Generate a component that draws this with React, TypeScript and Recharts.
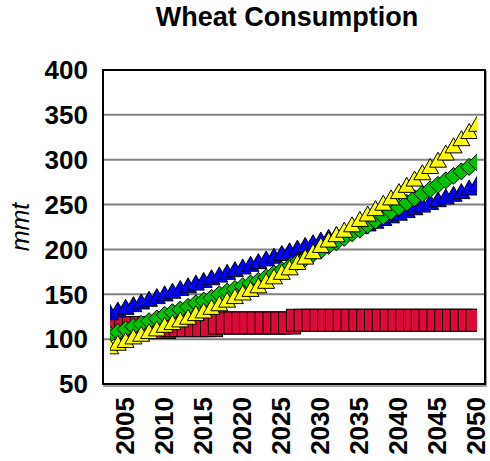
import React from 'react';
import { LineChart, Line, XAxis, YAxis, CartesianGrid } from 'recharts';

const years = [
  2003, 2004, 2005, 2006, 2007, 2008, 2009, 2010, 2011, 2012, 2013, 2014, 2015, 2016, 2017, 2018,
  2019, 2020, 2021, 2022, 2023, 2024, 2025, 2026, 2027, 2028, 2029, 2030, 2031, 2032, 2033, 2034,
  2035, 2036, 2037, 2038, 2039, 2040, 2041, 2042, 2043, 2044, 2045, 2046, 2047, 2048, 2049, 2050,
];

const redSeries = [
  112, 112, 113, 113, 113, 113, 113, 113, 115, 115, 115, 115, 115, 115, 118, 118,
  118, 118, 118, 118, 118, 118, 118, 118, 121, 121, 121, 121, 121, 121, 121, 121,
  121, 121, 121, 121, 121, 121, 121, 121, 121, 121, 121, 121, 121, 121, 121, 121,
];

const blueSeries = [
  130, 133, 136, 139, 142, 145, 148, 151, 154, 157, 160, 163, 166, 169, 172, 175,
  178, 181, 184, 187, 190, 193, 196, 199, 202, 205, 208, 211, 214, 217, 220, 223,
  226, 229, 232, 235, 238, 241, 244, 247, 250, 253, 256, 259, 262, 265, 269, 273,
];

const greenSeries = [
  105, 108, 111, 114, 117, 120, 123, 127, 130, 133, 136, 140, 143, 146, 150, 153,
  156, 159, 162, 165, 169, 173, 177, 181, 186, 190, 195, 199, 204, 208, 213, 218,
  222, 227, 232, 237, 242, 247, 252, 257, 262, 267, 272, 277, 282, 287, 292, 297,
];

const yellowSeries = [
  92, 96, 99, 103, 106, 109, 112, 116, 119, 122, 125, 129, 132, 136, 140, 144,
  148, 152, 156, 160, 165, 170, 175, 180, 186, 192, 198, 205, 211, 217, 222, 228,
  234, 240, 246, 252, 258, 265, 272, 279, 286, 293, 300, 308, 316, 324, 332, 340,
];

const yTicks = [50, 100, 150, 200, 250, 300, 350, 400];
const xTicks = [2005, 2010, 2015, 2020, 2025, 2030, 2035, 2040, 2045, 2050];

const data = years.map((year, i) => ({
  year,
  red: redSeries[i],
  blue: blueSeries[i],
  green: greenSeries[i],
  yellow: yellowSeries[i],
}));

const FONT = '"Liberation Sans", Arial, sans-serif';

const triangle = (fill: string) => (props: any) => {
  const { cx, cy, index } = props;
  if (cx == null || cy == null) return <g key={index} />;
  return (
    <polygon
      key={index}
      points={`${cx},${cy - 7.5} ${cx + 8.5},${cy + 7.5} ${cx - 8.5},${cy + 7.5}`}
      fill={fill}
      stroke="#000"
      strokeWidth={1}
    />
  );
};

const diamond = (fill: string) => (props: any) => {
  const { cx, cy, index } = props;
  if (cx == null || cy == null) return <g key={index} />;
  return (
    <polygon
      key={index}
      points={`${cx},${cy - 8.5} ${cx + 8.5},${cy} ${cx},${cy + 8.5} ${cx - 8.5},${cy}`}
      fill={fill}
      stroke="#000"
      strokeWidth={1}
    />
  );
};

const square = (fill: string) => (props: any) => {
  const { cx, cy, index } = props;
  if (cx == null || cy == null) return <g key={index} />;
  return <rect key={index} x={cx - 11} y={cy - 11} width={22} height={22} fill={fill} stroke="#000" strokeWidth={1} />;
};

const XTick = (props: any) => {
  const { x, y, payload } = props;
  return (
    <text
      x={x - 1}
      y={y}
      transform={`rotate(-90 ${x - 1} ${y})`}
      textAnchor="end"
      dominantBaseline="central"
      fontFamily={FONT}
      fontWeight="bold"
      fontSize={26}
      fill="#000"
    >
      {payload.value}
    </text>
  );
};

export default function App() {
  return (
    <div style={{ position: 'absolute', left: 0, top: 0, width: 490, height: 461, background: '#fff' }}>
      <div
        style={{
          position: 'absolute',
          left: 0,
          width: 574,
          top: 1,
          textAlign: 'center',
          fontFamily: FONT,
          fontWeight: 'bold',
          fontSize: 27,
          lineHeight: '32px',
          color: '#000',
        }}
      >
        Wheat Consumption
      </div>
      <div
        style={{
          position: 'absolute',
          left: 20,
          top: 227,
          transform: 'translate(-50%, -50%) rotate(-90deg)',
          fontFamily: FONT,
          fontStyle: 'italic',
          fontSize: 25,
          color: '#000',
          whiteSpace: 'nowrap',
        }}
      >
        mmt
      </div>
      <LineChart width={490} height={461} data={data} margin={{ top: 70, right: 5, bottom: 0, left: 0 }}>
        <CartesianGrid vertical={false} stroke="#808080" strokeWidth={2} />
        <XAxis
          dataKey="year"
          type="number"
          domain={[2003, 2050]}
          allowDataOverflow
          ticks={xTicks}
          interval={0}
          padding={{ left: 7, right: 8 }}
          height={77}
          tickLine={false}
          tickSize={0}
          tickMargin={13}
          axisLine={false}
          tick={<XTick />}
        />
        <YAxis
          domain={[50, 400]}
          allowDataOverflow
          ticks={yTicks}
          interval={0}
          width={103}
          tickLine={false}
          tickSize={0}
          tickMargin={15}
          axisLine={false}
          tick={{ fontFamily: FONT, fontWeight: 'bold', fontSize: 26, fill: '#000' }}
        />
        <Line dataKey="red" stroke="none" dot={square('#DC0A37')} activeDot={false} isAnimationActive={false} />
        <Line dataKey="blue" stroke="none" dot={triangle('#0000FF')} activeDot={false} isAnimationActive={false} />
        <Line dataKey="green" stroke="none" dot={diamond('#00C000')} activeDot={false} isAnimationActive={false} />
        <Line dataKey="yellow" stroke="none" dot={triangle('#FFFF00')} activeDot={false} isAnimationActive={false} />
      </LineChart>
      <div
        style={{
          position: 'absolute',
          left: 102,
          top: 69,
          width: 384,
          height: 316,
          boxSizing: 'border-box',
          border: '2px solid #000',
          boxShadow: '1px 2px 0 #a0a0a0',
          pointerEvents: 'none',
        }}
      />
    </div>
  );
}
